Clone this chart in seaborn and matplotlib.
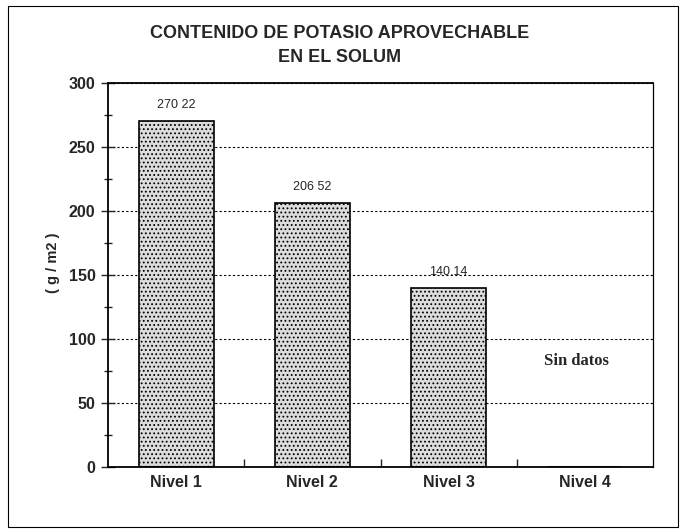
import matplotlib
matplotlib.use("Agg")
import matplotlib.pyplot as plt
import seaborn as sns
import pandas as pd
from matplotlib.patches import Rectangle

niveles = ["Nivel 1", "Nivel 2", "Nivel 3", "Nivel 4"]
valores = [270.22, 206.52, 140.14, 0.0]
etiquetas = ["270 22", "206 52", "140.14", ""]
yticks = [0, 50, 100, 150, 200, 250, 300]

sns.set_style("white")
plt.rcParams["font.family"] = ["Liberation Sans", "DejaVu Sans"]
plt.rcParams["hatch.color"] = "#8a8a8a"
plt.rcParams["hatch.linewidth"] = 0.8

df = pd.DataFrame({"nivel": niveles, "valor": valores})

W, H = 685, 532
fig = plt.figure(figsize=(6.85, 5.32), dpi=100)
ax = fig.add_axes([108 / W, 1 - 467 / H, (653 - 108) / W, (467 - 83) / H])

sns.barplot(data=df, x="nivel", y="valor", ax=ax, color="#dcdcdc",
            width=0.55, edgecolor="black", linewidth=1.2, hatch="....")
for p in ax.patches:
    p.set_edgecolor("black")

ax.set_ylim(0, 300)
ax.set_xlim(-0.5, 3.5)
ax.set_yticks(yticks)
ax.set_yticks(range(0, 301, 25), minor=True)
ax.tick_params(axis="y", which="major", direction="inout", length=10, width=1,
               left=True, labelsize=11.5, pad=4)
ax.tick_params(axis="y", which="minor", direction="inout", length=6, width=1, left=True)
ax.set_xticks([0.5, 1.5, 2.5], minor=True)
ax.tick_params(axis="x", which="major", length=0, labelsize=11.5, pad=6)
ax.tick_params(axis="x", which="minor", direction="in", length=6, width=1, bottom=True)
for lab in ax.get_yticklabels() + ax.get_xticklabels():
    lab.set_fontweight("bold")
ax.yaxis.grid(True, linestyle=(0, (2, 2)), color="black", linewidth=0.8)
ax.set_axisbelow(True)
for s in ["left", "bottom", "top"]:
    ax.spines[s].set_color("black")
    ax.spines[s].set_linewidth(1.3)
ax.spines["right"].set_color("black")
ax.spines["right"].set_linewidth(0.9)
ax.set_xlabel("")
ax.set_ylabel("")

fig.text(53 / W, 1 - 263 / H, "( g / m2 )", rotation=90, ha="center", va="center",
         fontsize=10.5, fontweight="bold")

for i, (v, t) in enumerate(zip(valores, etiquetas)):
    if t:
        ax.text(i, v + 12.5, t, ha="center", va="center", fontsize=9)
ax.text(3 - 0.06, 83, "Sin datos", ha="center", va="center", fontsize=12,
        fontweight="bold", family=["Liberation Serif", "DejaVu Serif"])

fig.text(340 / W, 1 - 33 / H, "CONTENIDO DE POTASIO APROVECHABLE",
         ha="center", va="center", fontsize=13, fontweight="bold")
fig.text(340 / W, 1 - 57 / H, "EN EL SOLUM",
         ha="center", va="center", fontsize=13, fontweight="bold")

fig.patches.append(Rectangle((8 / W, 1 - 527 / H), 670 / W, 521 / H,
                             transform=fig.transFigure, fill=False,
                             edgecolor="black", linewidth=0.8))

fig.savefig("out.png", dpi=100)
